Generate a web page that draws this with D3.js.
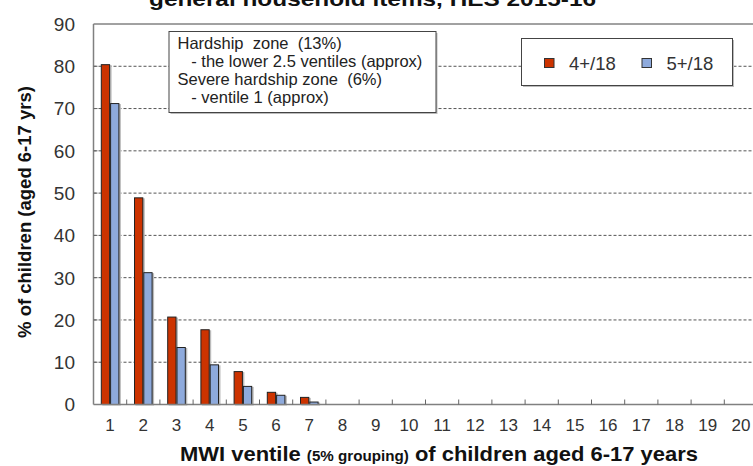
<!DOCTYPE html>
<html>
<head>
<meta charset="utf-8">
<script src="https://cdn.jsdelivr.net/npm/d3@7"></script>
<style>
  body { margin: 0; background: #fff; }
  svg { display: block; overflow: hidden; }
  text { font-family: Arial, "Liberation Sans", sans-serif; }
</style>
</head>
<body>
<svg width="753" height="466"></svg>
<script>
const ventiles = d3.range(1, 21).map(String);
const series = ["4+/18", "5+/18"];
const values4 = [80.5, 49.0, 20.8, 17.8, 7.9, 3.0, 1.8, 0, 0, 0, 0, 0, 0, 0, 0, 0, 0, 0, 0, 0];
const values5 = [71.3, 31.3, 13.6, 9.5, 4.4, 2.3, 0.7, 0, 0, 0, 0, 0, 0, 0, 0, 0, 0, 0, 0, 0];
const yTicks = [0, 10, 20, 30, 40, 50, 60, 70, 80, 90];
const colors = ["#cc3300", "#8eaadc"];
const noteLines = [
    "Hardship  zone  (13%)",
    "   - the lower 2.5 ventiles (approx)",
    "Severe hardship zone  (6%)",
    "   - ventile 1 (approx)"
];

const svg = d3.select("svg");
const plotLeft = 93.5, plotTop = 24, plotBottom = 404.5, step = 33.2;
const plotRight = plotLeft + step * ventiles.length;

const x = d3.scaleBand().domain(ventiles).range([plotLeft, plotRight])
    .paddingInner(0.44).paddingOuter(0.22);
const xs = d3.scaleBand().domain(series).range([0, x.bandwidth()]);
const y = d3.scaleLinear().domain([0, 90]).range([plotBottom, plotTop]);

// title (cut off at top of the picture)
svg.append("text")
    .attr("x", 149).attr("y", 6)
    .attr("textLength", 447).attr("lengthAdjust", "spacingAndGlyphs")
    .attr("font-size", 21).attr("font-weight", "bold")
    .attr("fill", "#111")
    .text("general household  items, HES 2015-16");

// gridlines
svg.append("g").selectAll("line")
    .data(yTicks.filter(d => d > 0 && d < 90))
    .join("line")
    .attr("x1", plotLeft).attr("x2", plotRight)
    .attr("y1", d => y(d)).attr("y2", d => y(d))
    .attr("stroke", "#555").attr("stroke-dasharray", "3,2");

// top frame
svg.append("line")
    .attr("x1", plotLeft).attr("x2", plotRight)
    .attr("y1", y(90)).attr("y2", y(90))
    .attr("stroke", "#444");

// bars
const groups = svg.append("g").selectAll("g")
    .data(ventiles.map((v, i) => ({ v, vals: [values4[i], values5[i]] })))
    .join("g")
    .attr("transform", d => `translate(${x(d.v)},0)`);

const bars = groups.selectAll("g")
    .data(d => d.vals.map((val, j) => ({ s: series[j], val, j })).filter(b => b.val > 0))
    .join("g");

bars.append("rect")
    .attr("x", b => xs(b.s) + 1.5)
    .attr("y", b => y(b.val) + 1)
    .attr("width", xs.bandwidth())
    .attr("height", b => plotBottom - y(b.val))
    .attr("fill", "#bbb");

bars.append("rect")
    .attr("x", b => xs(b.s) + 0.5)
    .attr("y", b => y(b.val) + 0.5)
    .attr("width", xs.bandwidth() - 1)
    .attr("height", b => plotBottom - y(b.val) - 0.5)
    .attr("fill", b => colors[b.j])
    .attr("stroke", "#222").attr("stroke-width", 1);

// x axis
const xAxis = svg.append("g").attr("transform", `translate(0,${plotBottom})`);
xAxis.append("line").attr("x1", plotLeft).attr("x2", plotRight).attr("stroke", "#808080").attr("stroke-width", 1.5);
xAxis.selectAll(".tk")
    .data(ventiles.slice(1))
    .join("line")
    .attr("class", "tk")
    .attr("x1", d => x(d) - x.step() * x.paddingInner() / 2)
    .attr("x2", d => x(d) - x.step() * x.paddingInner() / 2)
    .attr("y1", 0).attr("y2", -5)
    .attr("stroke", "#666");
xAxis.selectAll(".lb")
    .data(ventiles)
    .join("text")
    .attr("class", "lb")
    .attr("x", d => x(d) + x.bandwidth() / 2)
    .attr("y", 26)
    .attr("text-anchor", "middle")
    .attr("font-size", 17)
    .attr("fill", "#333")
    .text(d => d);

// y axis
const yAxis = svg.append("g");
yAxis.append("line").attr("x1", plotLeft).attr("x2", plotLeft).attr("y1", plotTop).attr("y2", plotBottom)
    .attr("stroke", "#808080").attr("stroke-width", 1.5);
yAxis.selectAll(".tk")
    .data(yTicks.slice(1, -1))
    .join("line")
    .attr("class", "tk")
    .attr("x1", plotLeft).attr("x2", plotLeft + 4)
    .attr("y1", d => y(d)).attr("y2", d => y(d))
    .attr("stroke", "#666");
yAxis.selectAll(".lb")
    .data(yTicks)
    .join("text")
    .attr("class", "lb")
    .attr("x", 75)
    .attr("y", d => y(d))
    .attr("dy", "0.36em")
    .attr("text-anchor", "end")
    .attr("font-size", 19)
    .attr("fill", "#333")
    .text(d => d);

// axis titles
svg.append("text")
    .attr("transform", "translate(31,212) rotate(-90)")
    .attr("text-anchor", "middle")
    .attr("font-size", 18.5).attr("font-weight", "bold")
    .attr("fill", "#111")
    .text("% of children (aged 6-17 yrs)");

const xt = svg.append("text")
    .attr("x", 180).attr("y", 461)
    .attr("textLength", 518).attr("lengthAdjust", "spacingAndGlyphs")
    .attr("font-weight", "bold")
    .attr("fill", "#111");
xt.append("tspan").attr("font-size", 21).text("MWI ventile ");
xt.append("tspan").attr("font-size", 14.5).text("(5% grouping)");
xt.append("tspan").attr("font-size", 21).text(" of children aged 6-17 years");

// annotation box
svg.append("rect").attr("x", 170.5).attr("y", 33).attr("width", 267).attr("height", 81).attr("fill", "#bbb");
svg.append("rect").attr("x", 169).attr("y", 31.5).attr("width", 267).attr("height", 81)
    .attr("fill", "#fff").attr("stroke", "#444");
svg.append("g").selectAll("text")
    .data(noteLines)
    .join("text")
    .attr("x", 177.5)
    .attr("y", (d, i) => 49 + i * 17.9)
    .attr("font-size", 16.5)
    .attr("fill", "#222")
    .style("white-space", "pre")
    .text(d => d);

// legend
svg.append("rect").attr("x", 523).attr("y", 40).attr("width", 211).attr("height", 47).attr("fill", "#bbb");
svg.append("rect").attr("x", 521.5).attr("y", 38.5).attr("width", 211).attr("height", 47)
    .attr("fill", "#fff").attr("stroke", "#444");
const lg = svg.append("g").selectAll("g")
    .data(series)
    .join("g")
    .attr("transform", (d, i) => `translate(${544.5 + i * 97.5},58.5)`);
lg.append("rect").attr("width", 9.5).attr("height", 9)
    .attr("fill", (d, i) => colors[i]).attr("stroke", "#333");
lg.append("text").attr("x", 24.5).attr("y", 4.5).attr("dy", "0.36em")
    .attr("font-size", 18.5).attr("fill", "#333")
    .text(d => d);
</script>
</body>
</html>
